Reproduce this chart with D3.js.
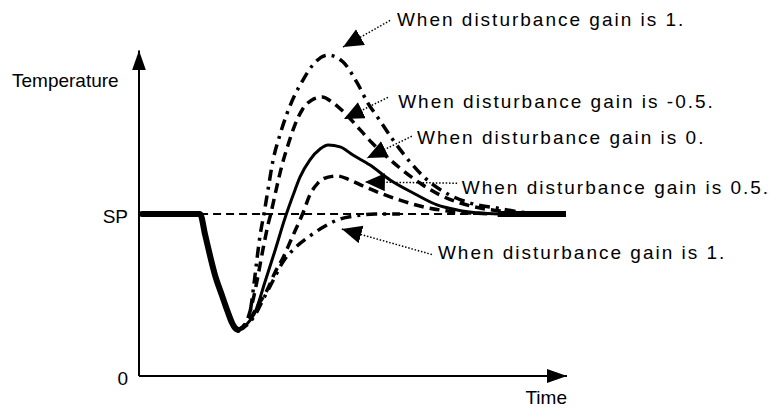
<!DOCTYPE html>
<html>
<head>
<meta charset="utf-8">
<script src="https://cdn.jsdelivr.net/npm/d3@7"></script>
<style>
  body { margin: 0; background: #fff; }
  svg { display: block; font-family: "Liberation Sans", Arial, sans-serif; }
</style>
</head>
<body>
<svg id="chart" width="776" height="410"></svg>
<script>
// values (time 0-100, temperature in % of SP)
const tickValues = [0, 100];
const tickLabels = ["0", "SP"];

// common part: on SP, then the dip caused by the disturbance
const leadT = [0.7, 14.3, 15.5, 16.6, 17.8, 19.4, 20.8, 21.8, 22.5, 23.2];
const leadV = [100, 100, 87.0, 74.7, 62.3, 50.0, 39.5, 32.7, 29.6, 28.4];

// all curves settled on SP
const tailT = [84, 100];
const tailV = [100, 100];

const gainLabels = ["1", "-0.5", "0", "0.5", "1"];
const lineStyles = ["dashdot", "dash", "solid", "dash", "dashdot"];

const gain1TopT = [23.2, 24.4, 26.0, 26.9, 27.6, 28.3, 29.3, 30.2, 31.4, 33.0, 34.7, 36.5, 38.4, 40.7, 44.3, 47.8, 51.1, 53.6, 56.0, 59.5, 63.5, 67.0, 72.8, 77.5, 83.8, 89.2, 95.1];
const gain1TopV = [28.4, 29.6, 39.5, 56.2, 71.6, 85.8, 100.6, 114.8, 133.3, 148.8, 162.3, 173.5, 182.7, 192.0, 198.1, 193.8, 180.9, 168.5, 159.3, 145.7, 132.1, 122.2, 111.7, 106.8, 103.7, 101.2, 100];

const gainM05T = [23.2, 25.1, 26.7, 27.9, 29.0, 30.2, 30.9, 32.1, 33.5, 34.9, 36.5, 38.2, 40.5, 42.9, 45.2, 48.2, 51.8, 54.6, 57.6, 61.1, 65.8, 70.5, 75.2, 79.9, 86.9, 93.9];
const gainM05V = [28.4, 33.3, 46.9, 62.3, 77.8, 93.2, 100.6, 114.8, 130.2, 142.6, 154.9, 164.2, 170.4, 172.2, 169.1, 162.3, 151.9, 143.8, 136.4, 128.4, 119.1, 111.7, 106.8, 103.7, 101.2, 100];

const gain0T = [23.2, 25.1, 27.2, 29.5, 31.9, 34.2, 36.1, 37.7, 40.0, 42.4, 44.3, 47.1, 50.1, 54.1, 58.8, 64.2, 69.8, 74.5, 79.9, 84.3];
const gain0V = [28.4, 31.5, 39.5, 58.0, 77.8, 97.5, 111.7, 122.8, 133.3, 140.1, 142.6, 141.4, 136.4, 130.2, 121.0, 113.0, 105.6, 102.5, 100.6, 100];

const gain05T = [23.2, 25.5, 27.9, 30.0, 31.9, 33.7, 35.8, 37.7, 38.4, 40.0, 41.9, 44.3, 46.4, 49.4, 52.5, 56.4, 61.1, 65.8, 70.5, 75.2, 82.2];
const gain05V = [28.4, 33.3, 43.8, 53.1, 64.2, 72.8, 85.2, 96.3, 100.6, 111.7, 119.1, 122.8, 123.5, 121.0, 117.3, 113.0, 108.6, 104.9, 102.5, 101.2, 100];

const gain1LowT = [23.2, 25.3, 27.2, 29.0, 31.1, 33.7, 36.5, 40.0, 43.6, 47.1, 50.6, 55.3, 61.1];
const gain1LowV = [28.4, 31.5, 37.7, 46.9, 57.4, 70.4, 79.0, 86.4, 92.6, 96.9, 98.8, 100, 100];

// annotation anchors: arrow tip, leader start, label position
const tipT = [47.8, 48.0, 53.4, 52.9, 47.5];
const tipV = [203.1, 158.6, 134.6, 119.8, 90.7];
const leadStartT = [58.8, 58.3, 63.9, 74.5, 68.6];
const leadStartV = [219.5, 172.0, 148.0, 119.0, 75.0];
const labelT = [60.4, 60.7, 65.1, 75.6, 70.0];
const labelV = [216.0, 165.4, 143.2, 112.3, 72.2];

const series = [
  { t: gain1TopT, v: gain1TopV },
  { t: gainM05T, v: gainM05V },
  { t: gain0T, v: gain0V },
  { t: gain05T, v: gain05V },
  { t: gain1LowT, v: gain1LowV }
];

const svg = d3.select("#chart");

const x = d3.scaleLinear().domain([0, 100]).range([139, 566]);
const y = d3.scaleLinear().domain([0, 201]).range([376, 50.4]);

const dashes = { solid: null, dash: "10,6", dashdot: "11,6,3,6" };

const defs = svg.append("defs");
defs.append("marker")
  .attr("id", "axis-arrow")
  .attr("markerUnits", "userSpaceOnUse")
  .attr("markerWidth", 22).attr("markerHeight", 16)
  .attr("refX", 20).attr("refY", 7)
  .attr("orient", "auto")
  .append("path").attr("d", "M0,0 L20,7 L0,14 Z").attr("fill", "#000");
defs.append("marker")
  .attr("id", "note-arrow")
  .attr("markerUnits", "userSpaceOnUse")
  .attr("markerWidth", 22).attr("markerHeight", 20)
  .attr("refX", 20).attr("refY", 9)
  .attr("orient", "auto")
  .append("path").attr("d", "M0,0 L20,9 L0,18 Z").attr("fill", "#000");

// axes (no ticks, only SP and 0)
const yAxis = d3.axisLeft(y)
  .tickValues(tickValues)
  .tickFormat((d, i) => tickLabels[i])
  .tickSize(0)
  .tickPadding(11);
const gy = svg.append("g").attr("transform", `translate(${x(0)},0)`).call(yAxis);
gy.select(".domain").remove();
gy.selectAll("text")
  .attr("dy", "0.45em")
  .attr("font-size", 19)
  .attr("font-family", "Liberation Sans, Arial, sans-serif")
  .attr("fill", "#000");

const xAxis = d3.axisBottom(x).tickValues([]).tickSize(0);
const gx = svg.append("g").attr("transform", `translate(0,${y(0)})`).call(xAxis);
gx.select(".domain").remove();

svg.append("line")
  .attr("x1", x(0)).attr("y1", y(0)).attr("x2", x(0)).attr("y2", y(201))
  .attr("stroke", "#000").attr("stroke-width", 2)
  .attr("marker-end", "url(#axis-arrow)");
svg.append("line")
  .attr("x1", x(0)).attr("y1", y(0)).attr("x2", x(100) + 1).attr("y2", y(0))
  .attr("stroke", "#000").attr("stroke-width", 2)
  .attr("marker-end", "url(#axis-arrow)");

svg.append("text")
  .attr("x", 12).attr("y", 87)
  .attr("font-size", 19)
  .text("Temperature");
svg.append("text")
  .attr("x", x(100) + 1).attr("y", 404)
  .attr("text-anchor", "end")
  .attr("font-size", 19)
  .text("Time");

const line = d3.line()
  .x(d => x(d[0]))
  .y(d => y(d[1]))
  .curve(d3.curveMonotoneX);

// set point reference
svg.append("line")
  .attr("x1", x(leadT[1])).attr("y1", y(100))
  .attr("x2", x(100)).attr("y2", y(100))
  .attr("stroke", "#000").attr("stroke-width", 2)
  .attr("stroke-dasharray", "8,5");

// response curves
series.forEach((s, i) => {
  svg.append("path")
    .datum(s.t.map((t, j) => [t, s.v[j]]))
    .attr("d", line)
    .attr("fill", "none")
    .attr("stroke", "#000")
    .attr("stroke-width", lineStyles[i] === "solid" ? 3 : 3.5)
    .attr("stroke-dasharray", dashes[lineStyles[i]]);
});

// shared thick parts
svg.append("path")
  .datum(leadT.map((t, j) => [t, leadV[j]]))
  .attr("d", line)
  .attr("fill", "none").attr("stroke", "#000")
  .attr("stroke-width", 6).attr("stroke-linejoin", "round").attr("stroke-linecap", "round");
svg.append("path")
  .datum(tailT.map((t, j) => [t, tailV[j]]))
  .attr("d", line)
  .attr("fill", "none").attr("stroke", "#000").attr("stroke-width", 6);

// annotations
gainLabels.forEach((g, i) => {
  svg.append("line")
    .attr("x1", x(leadStartT[i])).attr("y1", y(leadStartV[i]))
    .attr("x2", x(tipT[i])).attr("y2", y(tipV[i]))
    .attr("stroke", "#000").attr("stroke-width", 1.5)
    .attr("stroke-dasharray", "1.5,1.8")
    .attr("marker-end", "url(#note-arrow)");
  svg.append("text")
    .attr("x", x(labelT[i])).attr("y", y(labelV[i]))
    .attr("font-size", 19)
    .attr("letter-spacing", "2px")
    .text(`When disturbance gain is ${g}.`);
});
</script>
</body>
</html>
